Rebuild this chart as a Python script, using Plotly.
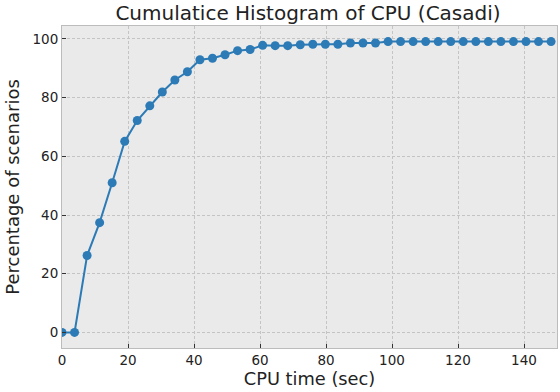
import plotly.graph_objects as go

cpu_time = [0.0, 3.8, 7.6, 11.4, 15.2, 19.0, 22.8, 26.6, 30.4, 34.2,
            38.0, 41.8, 45.6, 49.4, 53.2, 57.0, 60.8, 64.6, 68.4, 72.2,
            76.0, 79.8, 83.6, 87.4, 91.2, 95.0, 98.8, 102.6, 106.4, 110.2,
            114.0, 117.8, 121.6, 125.4, 129.2, 133.0, 136.8, 140.6, 144.4, 148.2]
percentage = [0.0, 0.0, 26.2, 37.4, 51.0, 65.1, 72.2, 77.2, 81.9, 86.0,
              88.8, 92.9, 93.4, 94.6, 96.0, 96.4, 97.8, 97.7, 97.7, 98.0,
              98.2, 98.2, 98.2, 98.6, 98.6, 98.6, 99.1, 99.1, 99.1, 99.1,
              99.1, 99.1, 99.1, 99.1, 99.1, 99.1, 99.1, 99.1, 99.1, 99.1]
x_ticks = [0, 20, 40, 60, 80, 100, 120, 140]
y_ticks = [0, 20, 40, 60, 80, 100]

FONT = "DejaVu Sans"

fig = go.Figure()
fig.add_trace(go.Scatter(
    x=cpu_time, y=percentage, mode="lines+markers",
    line=dict(color="#2c7bb6", width=2),
    marker=dict(color="#2c7bb6", size=9),
    showlegend=False,
))

axis_common = dict(
    showgrid=True, gridcolor="#c4c4c4", griddash="3px,2px", gridwidth=0.8,
    showline=True, linecolor="#bcbcbc", linewidth=1, mirror=True,
    ticks="inside", ticklen=4, tickcolor="#333333", tickwidth=1,
    zeroline=False,
    tickfont=dict(family=FONT, size=13.5, color="#222222"),
)

fig.update_layout(
    width=560, height=392,
    margin=dict(l=62, r=3, t=26, b=44),
    paper_bgcolor="white", plot_bgcolor="#eaeaea",
    font=dict(family=FONT, color="#222222"),
    title=dict(text="Cumulatice Histogram of CPU (Casadi)", xref="paper", x=0.497,
               xanchor="center", y=0.968, yanchor="middle",
               font=dict(family=FONT, size=20, color="#222222")),
    xaxis=dict(axis_common, range=[0, 150], tickvals=x_ticks,
               title=dict(text="CPU time (sec)", font=dict(family=FONT, size=17.8), standoff=4)),
    yaxis=dict(axis_common, range=[-5.3, 104.4], tickvals=y_ticks,
               title=dict(text="Percentage of scenarios", font=dict(family=FONT, size=18), standoff=8)),
)

fig.write_html("out.html", config={"displayModeBar": False},
               post_script="document.body.style.margin='0';")
